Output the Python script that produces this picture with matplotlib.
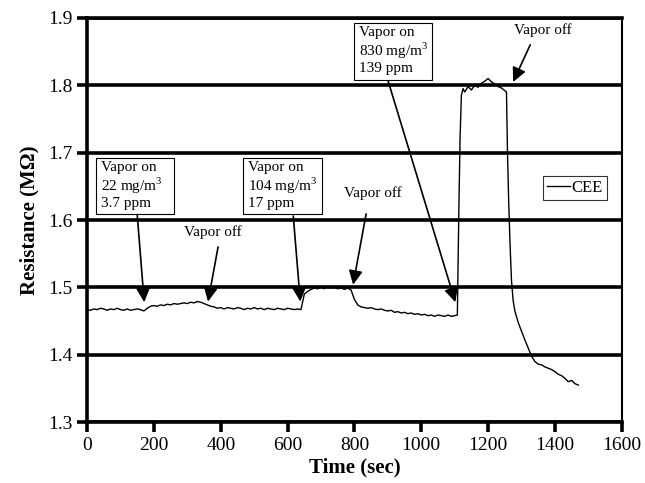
import matplotlib
matplotlib.use("Agg")
import matplotlib.pyplot as plt
from matplotlib.patches import Rectangle

plt.rcParams['font.family'] = ['Liberation Serif', 'DejaVu Serif']
plt.rcParams['mathtext.fontset'] = 'custom'
plt.rcParams['mathtext.rm'] = 'Liberation Serif'

time = [0, 10, 20, 30, 40, 50, 60, 70, 80, 90, 100, 110, 120, 130, 140, 150, 160,
        170, 180, 190, 200, 210, 220, 230, 240, 250, 260, 270, 280, 290, 300, 310, 320,
        330, 340, 350, 360, 370, 380, 390, 400, 410, 420, 430, 440, 450, 460, 470, 480,
        490, 500, 510, 520, 530, 540, 550, 560, 570, 580, 590, 600, 610, 620, 630, 640,
        650, 660, 670, 680, 690, 700, 710, 720, 730, 740, 750, 760, 770, 780, 790,
        800, 810, 820, 830, 840, 850, 860, 870, 880, 890, 900, 910, 920, 930, 940, 950,
        960, 970, 980, 990, 1000, 1010, 1020, 1030, 1040, 1050, 1060, 1070, 1080, 1090,
        1100, 1108,
        1112, 1116, 1120, 1125, 1130, 1140, 1150, 1160, 1170, 1180, 1190, 1200, 1210,
        1220, 1230, 1240, 1250, 1255,
        1258, 1262, 1266, 1270, 1275, 1280, 1290, 1300, 1310, 1320, 1330, 1340, 1350,
        1360, 1370, 1380, 1390, 1400, 1410, 1420, 1430, 1440, 1450, 1460, 1470]

resistance = [1.467, 1.466, 1.468, 1.467, 1.469, 1.468, 1.466, 1.468, 1.467, 1.469, 1.467, 1.466, 1.468, 1.466, 1.467, 1.468, 1.467,
              1.465, 1.469, 1.472, 1.473, 1.472, 1.474, 1.473, 1.475, 1.474, 1.476, 1.475, 1.476, 1.477, 1.476, 1.478, 1.477,
              1.479, 1.478, 1.476, 1.474, 1.472, 1.471, 1.469, 1.470, 1.468, 1.470, 1.469, 1.468, 1.470, 1.469, 1.467, 1.469,
              1.468, 1.470, 1.468, 1.469, 1.467, 1.469, 1.468, 1.467, 1.469, 1.468, 1.467, 1.469, 1.468, 1.467, 1.468, 1.467,
              1.490, 1.494, 1.497, 1.499, 1.498, 1.500, 1.498, 1.501, 1.499, 1.500, 1.498, 1.499, 1.497, 1.499, 1.496,
              1.482, 1.474, 1.471, 1.470, 1.469, 1.470, 1.468, 1.467, 1.468, 1.466, 1.465, 1.466, 1.463, 1.464, 1.462, 1.463,
              1.461, 1.462, 1.460, 1.461, 1.459, 1.460, 1.458, 1.459, 1.457, 1.459, 1.458, 1.457, 1.459, 1.457,
              1.458, 1.459,
              1.600, 1.720, 1.785, 1.795, 1.790, 1.798, 1.793, 1.800, 1.797, 1.803, 1.806, 1.810, 1.805,
              1.802, 1.798, 1.796, 1.792, 1.790,
              1.700, 1.620, 1.560, 1.510, 1.480, 1.465, 1.448, 1.435, 1.422, 1.410, 1.398, 1.390, 1.386,
              1.385, 1.382, 1.380, 1.378, 1.375, 1.371, 1.369, 1.365, 1.360, 1.362, 1.357, 1.355]

x_ticks = [0, 200, 400, 600, 800, 1000, 1200, 1400, 1600]
y_ticks = [1.3, 1.4, 1.5, 1.6, 1.7, 1.8, 1.9]

fig = plt.figure(figsize=(6.45, 4.83), dpi=100)
ax = fig.add_axes([0.135, 0.126, 0.829, 0.837])

for y in y_ticks:
    ax.axhline(y, color='black', lw=2.6, zorder=1)

ax.plot(time, resistance, color='black', lw=1.0, label='CEE', zorder=3)

ax.set_xlim(0, 1600)
ax.set_ylim(1.3, 1.9)
ax.set_xticks(x_ticks)
ax.set_yticks(y_ticks)
ax.set_xticklabels([str(v) for v in x_ticks])
ax.set_yticklabels([f"{v:.1f}" for v in y_ticks])
ax.tick_params(axis='both', direction='out', length=7, width=2.6, labelsize=14, colors='black')
ax.tick_params(axis='x', pad=4)

for s in ['left', 'bottom', 'top']:
    ax.spines[s].set_linewidth(2.6)
ax.spines['right'].set_linewidth(1.5)

ax.set_xlabel('Time (sec)', fontsize=15, fontweight='bold', labelpad=2)
ax.set_ylabel('Resistance (M\u03a9)', fontsize=15, fontweight='bold', labelpad=6)

afs = 11
# annotation boxes: (left, bottom, width, height) in data coords
boxes = [(27, 1.609, 233, 0.083), (467, 1.609, 237, 0.083), (799, 1.808, 234, 0.085)]
texts = ['Vapor on\n22 mg/m$^3$\n3.7 ppm', 'Vapor on\n104 mg/m$^3$\n17 ppm',
         'Vapor on\n830 mg/m$^3$\n139 ppm']
for (x0, y0, w, h), s in zip(boxes, texts):
    ax.add_patch(Rectangle((x0, y0), w, h, fc='white', ec='black', lw=0.8, zorder=5))
    ax.text(x0 + 15, y0 + h - 0.005, s, fontsize=afs, va='top', ha='left',
            linespacing=1.1, zorder=6)

ax.text(377, 1.582, 'Vapor off', fontsize=afs, ha='center', va='center', zorder=5)
ax.text(856, 1.640, 'Vapor off', fontsize=afs, ha='center', va='center', zorder=5)
ax.text(1365, 1.882, 'Vapor off', fontsize=afs, ha='center', va='center', zorder=5)

arrows = [((150, 1.608), (171, 1.478)),
          ((617, 1.606), (638, 1.479)),
          ((392, 1.560), (362, 1.479)),
          ((835, 1.609), (796, 1.504)),
          ((901, 1.806), (1102, 1.478)),
          ((1326, 1.860), (1275, 1.805))]
for start, tip in arrows:
    ax.annotate('', xy=tip, xytext=start,
                arrowprops=dict(arrowstyle='-|>,head_length=0.85,head_width=0.42',
                                mutation_scale=10, color='black', lw=1.2,
                                shrinkA=0, shrinkB=0), zorder=6)

leg = ax.legend(loc='upper left', bbox_to_anchor=(0.852, 0.61), fontsize=12,
                frameon=True, fancybox=False, handlelength=1.4, handletextpad=0.1,
                borderpad=0.25, borderaxespad=0)
leg.get_frame().set_edgecolor('black')
leg.get_frame().set_linewidth(0.8)

fig.savefig('out.png', dpi=100)
